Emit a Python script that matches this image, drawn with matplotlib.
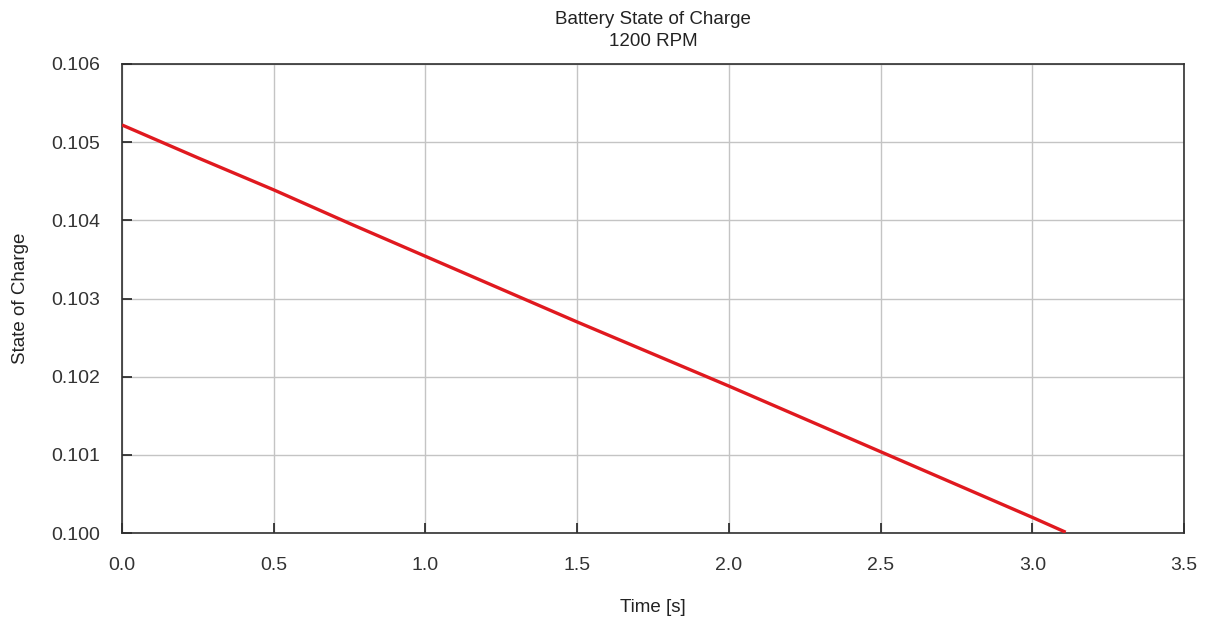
import matplotlib
matplotlib.use("Agg")
import matplotlib.pyplot as plt
from matplotlib.ticker import FormatStrFormatter

# Battery state of charge over time at 1200 RPM
time_s = [0.0, 0.25, 0.5, 0.75, 1.0, 1.25, 1.5, 1.75, 2.0, 2.25, 2.5, 2.75, 3.0, 3.11]
soc = [0.10522, 0.10480, 0.10439, 0.10396, 0.10354, 0.10312, 0.10270, 0.10229,
       0.10188, 0.10146, 0.10104, 0.10062, 0.10020, 0.10001]

x_ticks = [0.0, 0.5, 1.0, 1.5, 2.0, 2.5, 3.0, 3.5]
y_ticks = [0.100, 0.101, 0.102, 0.103, 0.104, 0.105, 0.106]

plt.rcParams["font.family"] = ["Liberation Sans", "DejaVu Sans"]

fig = plt.figure(figsize=(12.1, 6.18), dpi=100)
ax = fig.add_axes([122 / 1210, 1 - 533 / 618, (1184 - 122) / 1210, (533 - 64) / 618])

ax.plot(time_s, soc, color="#e0191f", linewidth=2.4, solid_capstyle="butt", zorder=3)

ax.set_xlim(0.0, 3.5)
ax.set_ylim(0.100, 0.106)
ax.set_xticks(x_ticks)
ax.set_yticks(y_ticks)
ax.xaxis.set_major_formatter(FormatStrFormatter("%.1f"))
ax.yaxis.set_major_formatter(FormatStrFormatter("%.3f"))

ax.grid(True, color="#c4c4c4", linewidth=1.0)
ax.set_axisbelow(True)
for s in ax.spines.values():
    s.set_color("#303030")
    s.set_linewidth(1.2)

ax.tick_params(axis="both", direction="in", length=7, width=1.2, color="#202020",
               labelsize=14, labelcolor="#333333")
ax.tick_params(axis="x", pad=17)
ax.tick_params(axis="y", pad=16)

ax.set_title("Battery State of Charge\n1200 RPM", fontsize=13.5, color="#222222",
             linespacing=1.38, pad=13)
ax.set_xlabel("Time [s]", fontsize=13.5, color="#222222", labelpad=18)
ax.set_ylabel("State of Charge", fontsize=13.5, color="#222222", labelpad=16)

fig.savefig("out.png", dpi=100, facecolor="white")
